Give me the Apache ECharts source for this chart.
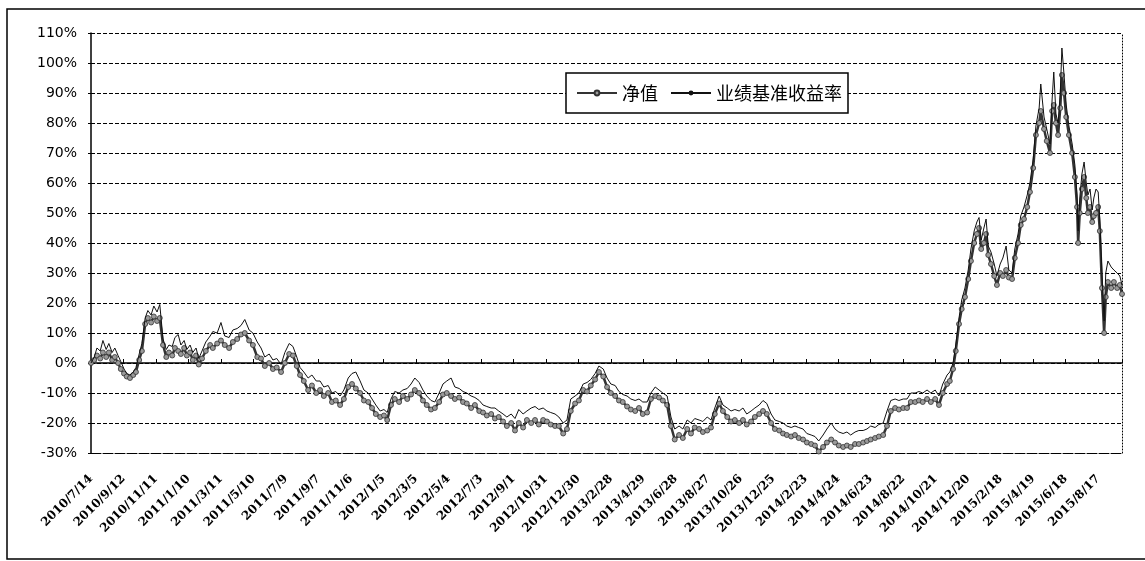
<!DOCTYPE html>
<html>
<head>
<meta charset="utf-8">
<script src="https://cdn.jsdelivr.net/npm/echarts@6/dist/echarts.min.js"></script>
<style>
html,body{margin:0;padding:0;background:#fff;}
#chart{width:1145px;height:561px;}
</style>
</head>
<body>
<div id="chart"></div>
<script>
// x values: calendar days since 2010-07-14
const START_DATE = '2010-07-14';
const tickLabels = ['2010/7/14','2010/9/12','2010/11/11','2011/1/10','2011/3/11','2011/5/10','2011/7/9','2011/9/7','2011/11/6','2012/1/5','2012/3/5','2012/5/4','2012/7/3','2012/9/1','2012/10/31','2012/12/30','2013/2/28','2013/4/29','2013/6/28','2013/8/27','2013/10/26','2013/12/25','2014/2/23','2014/4/24','2014/6/23','2014/8/22','2014/10/21','2014/12/20','2015/2/18','2015/4/19','2015/6/18','2015/8/17'];
const seriesNames = ['净值', '业绩基准收益率'];

const dayOffset = [
0,6,11,17,22,28,33,39,44,50, 55,61,66,72,78,83,89,94,100,105, 111,116,122,127,133,139,144,150,155,161,
166,172,177,183,188,194,199,205,212,220, 225,233,240,247,255,262,270,277,284,292, 299,307,314,321,329,336,343,351,358,366,
373,380,386,
393,401,408,416,423,430,438,445,452,460, 467,475,482,489,497,504,512,519,526,534, 541,547,554,561,569,576,584,591,598,606,
613,620,628,635,643,650,657,665,672,680, 687,694,702,709,717,724,731,739,746,753, 761,768,776,783,790,
798,805,813,820,827,835,842,849,857,864, 872,879,886,894,901,909,916,923,931,938, 946,953,960,968,975,982,990,997,1005,1012,
1019,1027,1034,1042,1049,1056,1064,1071,1078,1086, 1093,1101,1108,1115,1123,1130,1138,1145,1152,1160, 1167,1175,1182,
1189,1197,1204,1211,1219,1226,1234,1241,1248,1256, 1263,1271,1278,1285,1293,1300,1307,1315,1322,1330, 1337,1344,1352,1359,1367,1374,1381,1389,1396,1403,
1411,1418,1426,1433,1440,1448,1455,1463,1470,1477, 1485,1492,1500,1507,1514,1522,1529,1536,1544,1551, 1559,1566,1573,1581,
1586,1592,1597,1603,1608,1614,1620,1625,1631,1636, 1640,1644,1649,1653,1657,1662,1668,1673,1679,1684, 1690,1695,1701,1706,1712,1717,1723,1729,1734,1740,
1745,1751,1754,1760,1765,1771,1775,1778,1782,1786, 1790,1793,1797,1801,1806,1812,1817,1821,1823,1826, 1830,1834,1838,1841,1845,1849,1852,1856,1860,1863,
1867,1871,1874,1878,1884,1889,1895,1900,1904
];

// 净值 (%)
const navValues = [
0,1,2.5,1.5,3.5,2,3.5,1,2,0, -2,-3.5,-4.5,-5,-4,-3,1,4,13,15, 13.5,15.5,14,15,6,2,3.5,2.5,5,4,
3,5,2.5,3.5,1,2.5,-0.5,1.5,4,6, 5,6.5,7.5,6,5,7,8,9.5,10,7.5, 6,2,1.5,-1,0,-2,-1.5,-3,0,3,
2.5,-1,-4,
-6,-9,-7.5,-10,-9,-11,-10,-13,-12.5,-14, -12,-8,-7,-8.5,-10,-12.5,-13,-15,-17,-18, -17.5,-19,-14,-12,-13,-11,-12,-10.5,-9,-10,
-12.5,-14,-15.5,-15,-13,-10.5,-10,-11,-12,-11.5, -13,-13.5,-15,-14,-16,-16.5,-17.5,-17,-18.5,-18, -19.5,-21,-20,-22.5,-20,
-21.5,-19,-20,-19,-20.5,-19,-19.5,-20.5,-21,-21, -23.5,-22,-16,-13.5,-12.5,-9,-9.5,-7.5,-5.5,-3, -4.5,-8,-10,-11,-12.5,-13,-14.5,-15.5,-16,-15,
-17,-16.5,-12,-11,-11.5,-12.5,-14,-21,-25.5,-24, -25,-22,-23.5,-21.5,-22,-23,-22.5,-21.5,-17,-13.5, -16,-18,-19.5,
-19,-20,-19,-20.5,-19.5,-18,-17,-16,-17,-20, -22,-22.5,-23.5,-24,-24.5,-24,-25,-25.5,-26.5,-27, -27.5,-29.5,-28,-26.5,-25.5,-26.5,-27.5,-28,-27.5,-28,
-27,-27,-26.5,-26,-25.5,-25,-24.5,-24,-21,-16, -15,-15.5,-15,-15,-13,-13,-12.5,-13,-12,-13, -12,-14,-10,-7,
-6,-2,4,13,18,22,28,34,40,43, 45,38,40,43,36,33,29,26,30,29, 31,28.5,28,35,40,46,48,52,57,65,
76,80,84,78,74,70,84,86,80,76, 85,96,90,82,76,70,62,52,40,50, 58,62,55,50,52,47,49,50,52,44,
25,10,22,27,25,27,25,26,23
];

// 业绩基准收益率 (%)
const benchValues = [
0,2,5,4,7.5,4.5,6.5,3.5,5,2.5, 0.5,-2,-3.5,-4,-3,-1.5,3,6.5,15,17.5, 16,19,17,19.5,8,4.5,6,5.5,8.5,9.5,
6,7.5,4.5,6,3.5,5,1.5,4,7,9, 10.5,10,13.5,9,8.5,11,11.5,12.5,14.5,11, 10,7,5,2,3,1,1.5,-0.5,3.5,6.5,
5.5,2,-1.5,
-3,-5,-4,-6,-6,-8,-7.5,-10,-9.5,-11, -9,-5,-3.5,-3,-6,-9,-10,-12,-14,-16, -15.5,-16.5,-12,-9.5,-10,-9,-8.5,-7,-5,-6.5,
-9,-11,-12.5,-13,-10,-7,-6,-5,-8,-8.5, -9.5,-10,-11,-11.5,-12.5,-14,-14.5,-15,-15,-16, -17,-18,-17,-18.5,-15.5,
-17,-16,-15,-14.5,-15.5,-15,-16,-16.5,-17,-18, -20,-19,-12,-11,-10,-7,-6.5,-5.5,-3.5,-1, -2,-5,-7,-7.5,-9.5,-10.5,-11,-12,-12.5,-12,
-13,-13,-10,-8,-9,-10,-11,-18,-22,-21, -22,-19,-20,-18.5,-19,-19.5,-18,-19,-15,-11, -14,-15,-16,
-15.5,-16,-15,-17,-16,-15,-14,-12.5,-13.5,-17, -19,-19.5,-20,-21,-21.5,-21,-21.5,-22,-23.5,-24, -24.5,-26,-24,-22,-20,-22,-23,-23.5,-23,-24,
-23,-22.5,-22.5,-22,-21,-21.5,-20.5,-20,-16,-12.5, -12,-12.5,-12,-12,-10,-10,-9.5,-10,-9,-10, -9,-11,-7,-4,
-3,0,6,15,21,25,31,38,44,47, 48.5,41,45,48,39,37,33,29,33,35, 39,31,30,38,43,49,52,56,60,68,
79,85,93,82,78,73,88,97,83,80, 90,105,96,86,79,73,66,56,44,55, 63,67,60,56,58,51,55,58,57,48,
30,14,30,34,32,31,30,29,26
];

const yMin = -30, yMax = 110, yStep = 10;
const xMax = 1904, xStep = 60;

const navData = dayOffset.map((d, i) => [d, navValues[i]]);
const benchData = dayOffset.map((d, i) => [d, benchValues[i]]);

const chart = echarts.init(document.getElementById('chart'), null, {renderer: 'canvas'});
chart.setOption({
  animation: false,
  backgroundColor: '#fff',
  graphic: [{
    type: 'rect', z: 100, silent: true,
    shape: {x: 7, y: 9, width: 1150, height: 550},
    style: {fill: 'none', stroke: '#000', lineWidth: 1.5}
  }],
  grid: {left: 91, right: 23, top: 33, bottom: 108, containLabel: false},
  legend: {
    left: 566, top: 73,
    padding: [11, 6, 11, 10],
    backgroundColor: '#fff', borderColor: '#000', borderWidth: 1.5,
    itemWidth: 40, itemHeight: 6, itemGap: 12,
    textStyle: {fontFamily: 'Noto Sans CJK SC', fontSize: 18, color: '#000'},
    data: seriesNames
  },
  xAxis: [{
    type: 'value', min: 0, max: xMax, interval: xStep, position: 'bottom',
    axisLine: {onZero: true, lineStyle: {color: '#000', width: 1.5}},
    axisTick: {show: true, inside: true, length: 4, lineStyle: {color: '#000', width: 1}},
    axisLabel: {show: false},
    splitLine: {show: false}
  }, {
    type: 'value', min: 0, max: xMax, interval: xStep, position: 'bottom',
    axisLine: {show: true, onZero: false, lineStyle: {color: '#000', width: 1, type: [2, 2]}},
    axisTick: {show: false},
    axisLabel: {
      rotate: 45, margin: 24, color: '#000',
      fontFamily: 'DejaVu Serif', fontSize: 12, fontWeight: 'bold',
      formatter: v => (v % xStep === 0 && tickLabels[v / xStep]) ? tickLabels[v / xStep] : ''
    },
    splitLine: {show: false}
  }],
  yAxis: [{
    type: 'value', min: yMin, max: yMax, interval: yStep,
    axisLine: {show: true, onZero: false, lineStyle: {color: '#000', width: 1.5}},
    axisTick: {show: true, length: 3, lineStyle: {color: '#000'}},
    axisLabel: {formatter: '{value}%', color: '#000', fontFamily: 'DejaVu Sans', fontSize: 14, margin: 14},
    splitLine: {show: true, lineStyle: {color: '#000', width: 1, type: [4, 2]}}
  }, {
    type: 'value', min: yMin, max: yMax, interval: yStep, position: 'right',
    axisLine: {show: true, onZero: false, lineStyle: {color: '#000', width: 1, type: [1, 2]}},
    axisTick: {show: false}, axisLabel: {show: false}, splitLine: {show: false}
  }],
  series: [{
    name: seriesNames[0], type: 'line', data: navData,
    xAxisIndex: 0, yAxisIndex: 0,
    symbol: 'circle', symbolSize: 5, showSymbol: true, showAllSymbol: true,
    lineStyle: {color: '#333', width: 2.5},
    itemStyle: {color: '#9a9a9a', borderColor: '#333', borderWidth: 0.8},
    z: 2
  }, {
    name: seriesNames[1], type: 'line', data: benchData,
    xAxisIndex: 0, yAxisIndex: 0,
    symbol: 'none', showSymbol: false,
    lineStyle: {color: '#111', width: 1},
    itemStyle: {color: '#111'},
    z: 3
  }]
});
</script>
</body>
</html>
